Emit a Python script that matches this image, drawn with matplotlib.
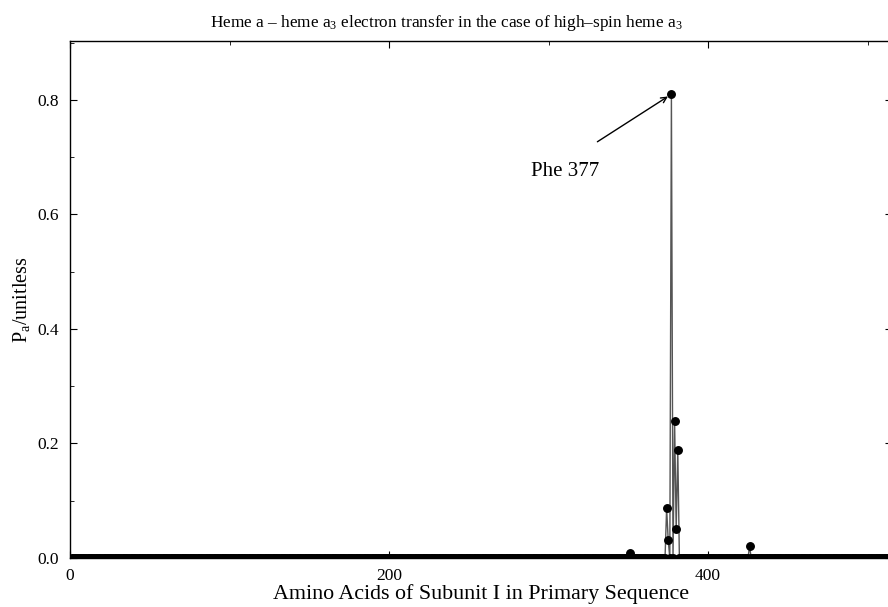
import numpy as np
import matplotlib
matplotlib.use("Agg")
import matplotlib.pyplot as plt
from matplotlib.ticker import MultipleLocator, FormatStrFormatter

plt.rcParams['font.family'] = ['Liberation Serif', 'DejaVu Serif']
plt.rcParams['mathtext.fontset'] = 'custom'
plt.rcParams['mathtext.rm'] = 'Liberation Serif'
plt.rcParams['mathtext.it'] = 'Liberation Serif:italic'
plt.rcParams['mathtext.default'] = 'regular'

# residues of subunit I (1..514); all values zero except those listed
n_residues = 514
peak_residues = [351, 374, 375, 377, 379, 380, 381, 426]
peak_values = [0.008, 0.087, 0.031, 0.81, 0.24, 0.05, 0.188, 0.021]

residues = np.arange(1, n_residues + 1)
values = np.zeros(n_residues)
for r, v in zip(peak_residues, peak_values):
    values[r - 1] = v

fig = plt.figure(figsize=(8.88, 6.07), dpi=100)
ax = fig.add_axes([70/888, 1 - 558/607, 1.004 - 70/888, (558 - 41)/607])

ax.plot(residues, values, color='#555555', lw=1.0, zorder=2)
ax.plot(residues, values, 'o', color='black', ms=5.4, zorder=3)

ax.set_xlim(0, 515)
ax.set_ylim(0, 0.903)
ax.xaxis.set_major_locator(MultipleLocator(200))
ax.xaxis.set_minor_locator(MultipleLocator(100))
ax.yaxis.set_major_locator(MultipleLocator(0.2))
ax.yaxis.set_minor_locator(MultipleLocator(0.1))
ax.tick_params(which='both', direction='in', top=True, right=True, labelsize=12.5)
ax.tick_params(which='major', length=5)
ax.tick_params(which='minor', length=3)
ax.tick_params(axis='x', which='major', pad=7)
ax.tick_params(axis='y', which='major', pad=8)
ax.yaxis.set_major_formatter(FormatStrFormatter('%.1f'))
for s in ax.spines.values():
    s.set_linewidth(1.0)

ax.set_xlabel('Amino Acids of Subunit I in Primary Sequence', fontsize=15.8, labelpad=0)
ax.set_ylabel(r'P$_{a}$/unitless', fontsize=14.5, labelpad=4)
fig.text(446/888, 1 - 27/607,
         r'Heme a – heme a$_3$ electron transfer in the case of high–spin heme a$_3$',
         fontsize=12.4, ha='center', va='baseline')

ax.text(289, 0.667, 'Phe 377', fontsize=15, ha='left', va='baseline')
ax.annotate('', xy=(377, 0.81), xytext=(330.6, 0.727),
            arrowprops=dict(arrowstyle='->', color='black', lw=1.0,
                            shrinkA=0, shrinkB=3))

fig.savefig('out.png', dpi=100)
